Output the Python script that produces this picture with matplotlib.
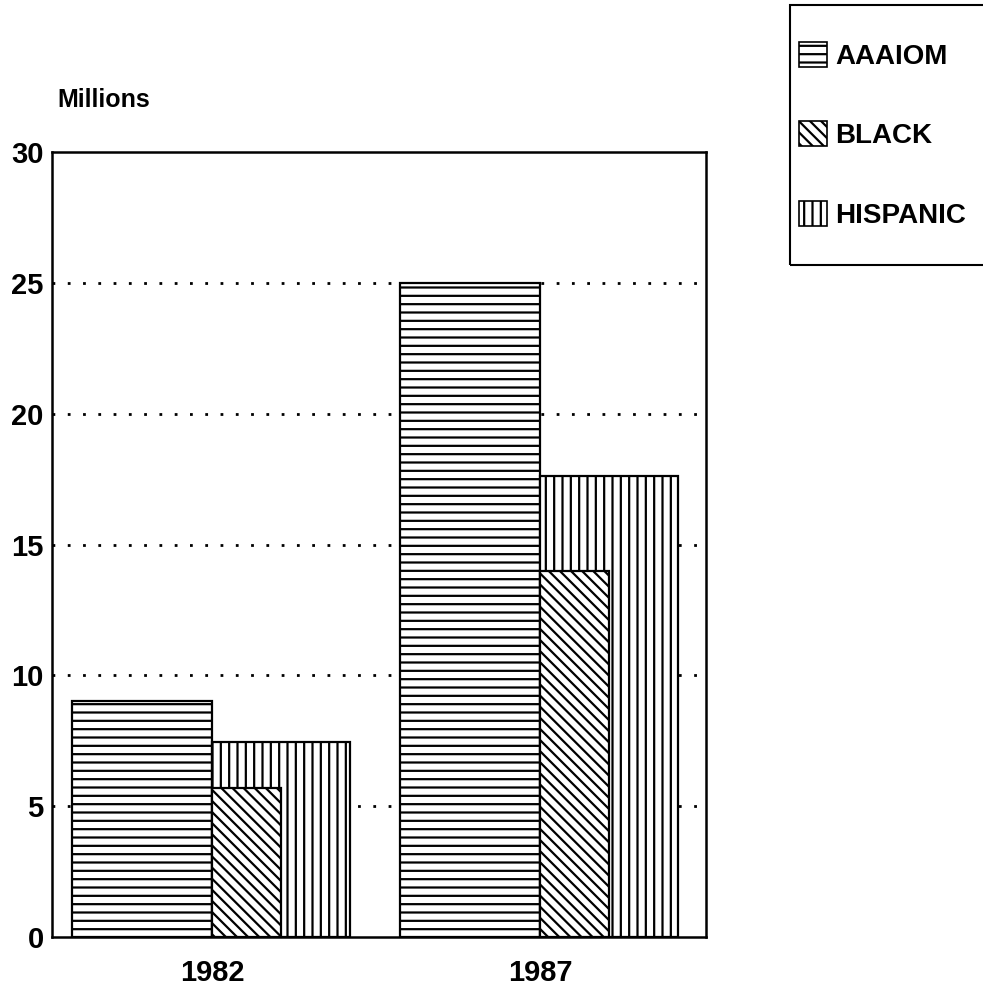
import numpy as np
import matplotlib
matplotlib.use("Agg")
import matplotlib.pyplot as plt
from matplotlib.patches import Patch, Rectangle

plt.rcParams['font.family'] = ['Liberation Sans', 'DejaVu Sans']
plt.rcParams['font.weight'] = 'bold'
plt.rcParams['hatch.linewidth'] = 1.6

years = ["1982", "1987"]
series = ["AAAIOM", "BLACK", "HISPANIC"]
aaaiom = [9.0, 25.0]
black = [5.7, 14.0]
hispanic = [7.45, 17.6]
yticks = [0, 5, 10, 15, 20, 25, 30]

hatches = {"AAAIOM": "--", "BLACK": "\\\\\\", "HISPANIC": "||"}

fig = plt.figure(figsize=(9.83, 9.99), dpi=100)
ax = fig.add_axes([0.0529, 0.0621, 0.6653, 0.7857])

x = np.arange(len(years))
w_big = 0.427
w_his = 0.421
w_blk = 0.21

# dotted gridlines, behind the bars
for y in yticks[1:-1]:
    ax.axhline(y, color='black', lw=2, dashes=(1, 4.5), zorder=0)

ax.bar(x, aaaiom, width=w_big, align='edge', facecolor='white',
       edgecolor='black', lw=1.6, hatch=hatches["AAAIOM"], zorder=2)
ax.bar(x + w_big, hispanic, width=w_his, align='edge', facecolor='white',
       edgecolor='black', lw=1.6, hatch=hatches["HISPANIC"], zorder=2)
ax.bar(x + w_big, black, width=w_blk, align='edge', facecolor='white',
       edgecolor='black', lw=1.6, hatch=hatches["BLACK"], zorder=3)

ax.set_xlim(-0.061, 1.933)
ax.set_ylim(0, 30)
ax.set_yticks(yticks)
ax.set_yticklabels([str(v) for v in yticks], fontsize=21)
ax.set_xticks(x + w_big)
ax.set_xticklabels(years, fontsize=21)
ax.tick_params(axis='y', length=0, pad=6)
ax.tick_params(axis='x', length=0, pad=16)
for s in ax.spines.values():
    s.set_linewidth(1.8)

ax.annotate("Millions", xy=(0, 1), xycoords='axes fraction',
            xytext=(4, 29), textcoords='offset points', fontsize=18,
            ha='left', va='bottom')

# legend box drawn by hand so the padding matches
handles = [Patch(facecolor='white', edgecolor='black', lw=1.2, hatch=hatches[s]) for s in series]
leg = fig.legend(handles, series, loc='upper left', bbox_to_anchor=(799 / 983, 1 - 42 / 999),
                 fontsize=20, frameon=False,
                 handlelength=1.0, handleheight=1.0, handletextpad=0.3,
                 labelspacing=1.85, borderpad=0, borderaxespad=0)
fig.patches.append(Rectangle((790 / 983, 1 - 265 / 999), 200 / 983, 260 / 999,
                             transform=fig.transFigure, fill=False,
                             edgecolor='black', lw=1.5))

fig.savefig("out.png", dpi=100)
